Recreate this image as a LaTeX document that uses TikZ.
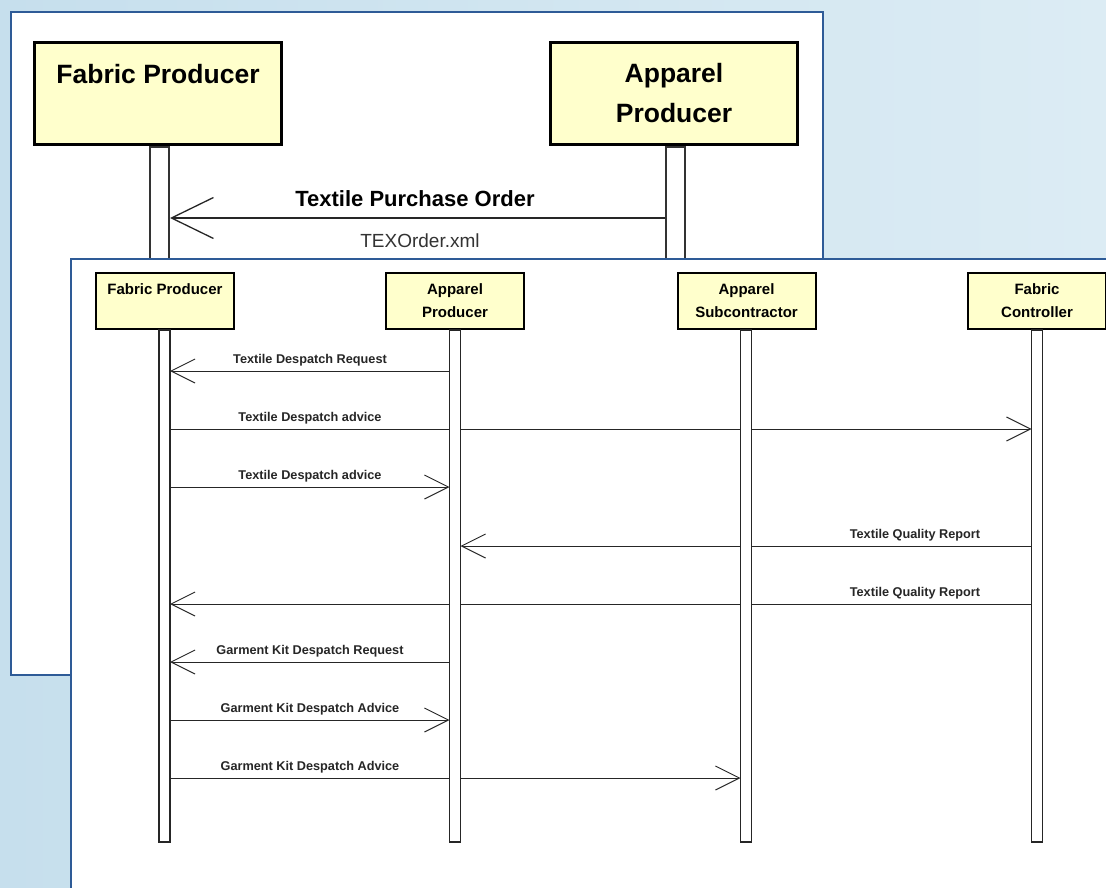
\documentclass[tikz,border=0pt]{standalone}
\usepackage{fontspec}
\setmainfont{Liberation Sans}
\usetikzlibrary{arrows.meta}
\definecolor{panelblue}{RGB}{46,91,151}
\definecolor{actorfill}{RGB}{255,255,204}
\definecolor{skyleft}{RGB}{198,223,237}
\definecolor{skyright}{RGB}{220,236,244}

\begin{document}
\begin{tikzpicture}[x=1pt,y=-1pt]
				\tikzstyle{panel}=[draw=panelblue,line width=2pt,fill=white]
				\tikzstyle{bigactor}=[draw=black,line width=3.5pt,fill=actorfill,minimum width=247pt,minimum height=102pt,inner sep=0pt,align=center,font=\fontsize{26.5}{40}\selectfont\bfseries]
				\tikzstyle{actor}=[draw=black,line width=2pt,fill=actorfill,minimum width=138pt,minimum height=56pt,inner sep=0pt,align=center,font=\fontsize{15}{23}\selectfont\bfseries]
				\tikzstyle{biglife}=[draw=black!80,line width=2pt,fill=white,minimum width=19pt,minimum height=160pt,inner sep=0pt,anchor=north]
				\tikzstyle{life}=[minimum width=11pt,minimum height=512pt,inner sep=0pt,outer sep=0pt,anchor=north]
				\tikzstyle{bigmsg}=[draw=black!85,line width=1.3pt,-{Straight Barb[length=42pt,width=41pt,line width=1.3pt]}]
				\tikzstyle{msg}=[draw=black!85,line width=1pt,-{Straight Barb[length=24pt,width=24pt,line width=1pt]}]
				\tikzstyle{msglabel}=[inner sep=0pt,font=\fontsize{12.7}{14}\selectfont\bfseries,text=black!85]
				\useasboundingbox (0,0) rectangle (1106,888);
				\fill[left color=skyleft,right color=skyright] (0,0) rectangle (1106,888);
				\draw[panel] (11,12) rectangle (823,675);
				\node[biglife](bfpl) at (159.5,146){};
				\node[biglife](bapl) at (675.5,146){};
				\node[bigactor](bfp) at (158,93.5){Fabric Producer\\\mbox{}};
				\node[bigactor](bap) at (674,93.5){Apparel\\Producer};
				\draw[bigmsg] (bapl.west |- 0,218) -- (bfpl.east |- 0,218);
				\node[inner sep=0pt,font=\fontsize{22}{24}\selectfont\bfseries](tpo) at (415,199){Textile Purchase Order};
				\node[inner sep=0pt,font=\fontsize{19}{21}\selectfont,text=black!80](xml) at (420,241){TEXOrder.xml};
				\draw[panel] (71,259) rectangle (1130,900);
				\node[actor](fp) at (165,301){Fabric Producer\\\mbox{}};
				\node[actor](ap) at (455,301){Apparel\\Producer};
				\node[actor](as) at (746.5,301){Apparel\\Subcontractor};
				\node[actor](fc) at (1037,301){Fabric\\Controller};
				\node[life](fpl) at (164.5,330){};
				\node[life](apl) at (455,330){};
				\node[life](asl) at (746,330){};
				\node[life](fcl) at (1037,330){};
				\draw[msg] (apl.west |- 0,371) -- (fpl.east |- 0,371);
				\draw[msg] (fpl.east |- 0,429) -- (fcl.west |- 0,429);
				\draw[msg] (fpl.east |- 0,487) -- (apl.west |- 0,487);
				\draw[msg] (fcl.west |- 0,546) -- (apl.east |- 0,546);
				\draw[msg] (fcl.west |- 0,604) -- (fpl.east |- 0,604);
				\draw[msg] (apl.west |- 0,662) -- (fpl.east |- 0,662);
				\draw[msg] (fpl.east |- 0,720) -- (apl.west |- 0,720);
				\draw[msg] (fpl.east |- 0,778) -- (asl.west |- 0,778);
				\foreach \l in {fpl,apl,asl,fcl}
					\draw[draw=black!85,line width=1.3pt,fill=white] (\l.north west) rectangle (\l.south east);
				\node[msglabel](m1) at (310,360){Textile Despatch Request};
				\node[msglabel](m2) at (310,418){Textile Despatch advice};
				\node[msglabel](m3) at (310,476){Textile Despatch advice};
				\node[msglabel](m4) at (915,535){Textile Quality Report};
				\node[msglabel](m5) at (915,593){Textile Quality Report};
				\node[msglabel](m6) at (310,651){Garment Kit Despatch Request};
				\node[msglabel](m7) at (310,709){Garment Kit Despatch Advice};
				\node[msglabel](m8) at (310,767){Garment Kit Despatch Advice};
			\end{tikzpicture}
\end{document}
